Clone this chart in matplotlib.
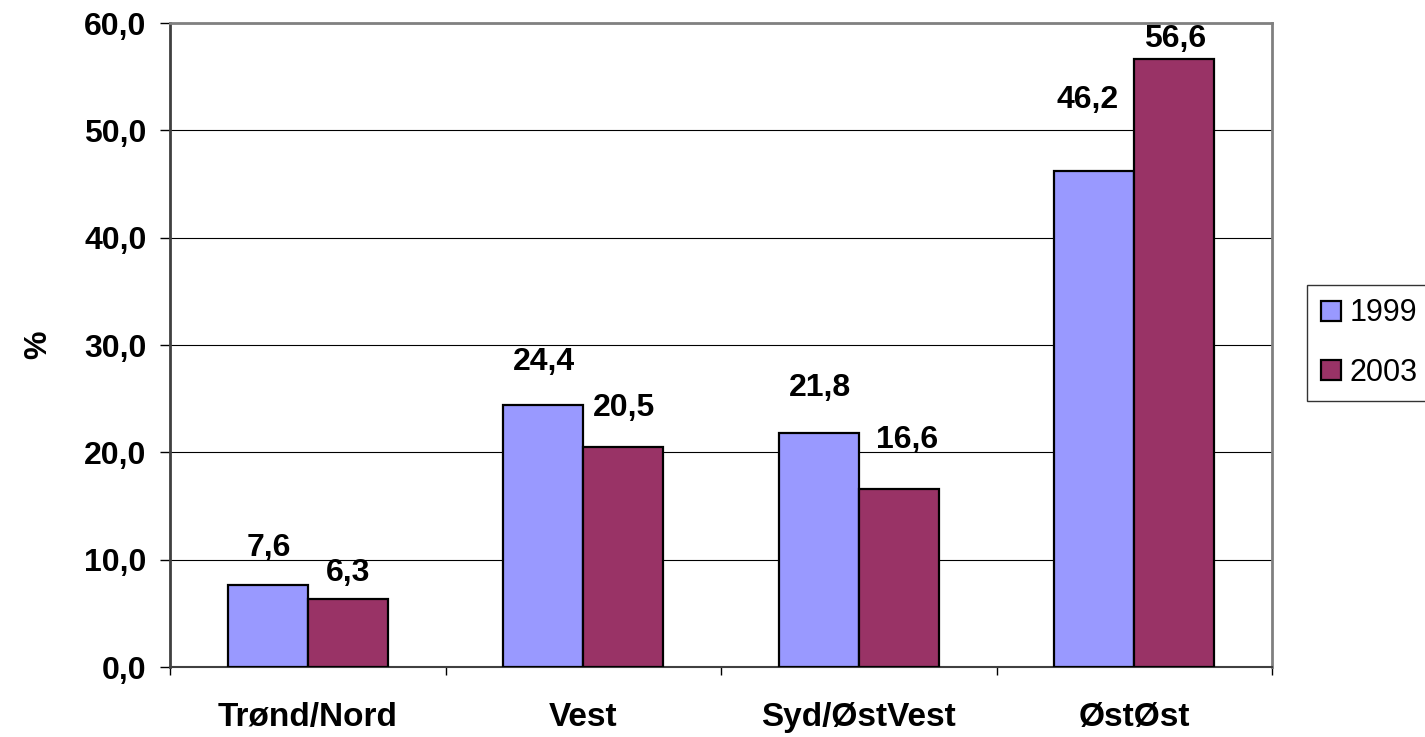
import numpy as np
import matplotlib.pyplot as plt

plt.rcParams['font.family'] = ['Liberation Sans', 'DejaVu Sans']

regions = ['Trønd/Nord', 'Vest', 'Syd/ØstVest', 'ØstØst']
v1999 = [7.6, 24.4, 21.8, 46.2]
v2003 = [6.3, 20.5, 16.6, 56.6]
years = ['1999', '2003']

# label offsets above bar tops (pixels), Excel placed them a bit unevenly
off1999 = [(1, 37), (1, 43), (1, 45), (-7, 71)]
off2003 = [(0, 26), (1, 39), (8, 49), (1, 20)]

fs = 23

fig = plt.figure(figsize=(14.25, 7.37), dpi=100)
ax = fig.add_axes([170 / 1425, 70 / 737, 1102 / 1425, 644 / 737])

x = np.arange(len(regions))
w = 0.29
b1 = ax.bar(x - w / 2, v1999, w, color='#9999FF', edgecolor='black', linewidth=1.6,
            label=years[0], zorder=3)
b2 = ax.bar(x + w / 2, v2003, w, color='#993366', edgecolor='black', linewidth=1.6,
            label=years[1], zorder=3)

def autolabel(rects, offs):
    for rect, (dx, dy) in zip(rects, offs):
        h = rect.get_height()
        ax.annotate(('%.1f' % h).replace('.', ','),
                    (rect.get_x() + rect.get_width() / 2, h),
                    xytext=(dx, dy), textcoords='offset pixels',
                    ha='center', va='center', fontsize=fs, fontweight='bold')

autolabel(b1, off1999)
autolabel(b2, off2003)

ax.set_xlim(-0.5, len(regions) - 0.5)
ax.set_ylim(0, 60)
yt = np.arange(0, 61, 10)
ax.set_yticks(yt)
ax.set_yticklabels([('%.1f' % v).replace('.', ',') for v in yt],
                   fontsize=fs, fontweight='bold')
ax.yaxis.grid(True, color='black', linewidth=0.8, zorder=0)
ax.tick_params(axis='y', direction='out', length=7, width=1, pad=10)

ax.set_xticks(np.arange(len(regions) + 1) - 0.5)
ax.set_xticklabels([])
ax.set_xticks(x, minor=True)
ax.set_xticklabels(regions, minor=True, fontsize=24, fontweight='bold')
ax.tick_params(axis='x', which='major', direction='out', length=6, width=1)
ax.tick_params(axis='x', which='minor', length=0, pad=25)

ax.set_ylabel('%', fontsize=fs, fontweight='bold', labelpad=22)

for s in ['top', 'right']:
    ax.spines[s].set_color('#808080')
    ax.spines[s].set_linewidth(2)
ax.spines['left'].set_color('#404040')
ax.spines['left'].set_linewidth(2)
ax.spines['bottom'].set_color('#404040')
ax.spines['bottom'].set_linewidth(1.5)

leg = fig.legend(loc='center left', bbox_to_anchor=(1307 / 1425, (737 - 343) / 737),
                 fontsize=22, frameon=True, fancybox=False, edgecolor='black',
                 handlelength=0.65, handleheight=0.65, handletextpad=0.3,
                 labelspacing=0.95, borderpad=0.45, borderaxespad=0)
leg.get_frame().set_linewidth(1)

fig.savefig('out.png', dpi=100)
